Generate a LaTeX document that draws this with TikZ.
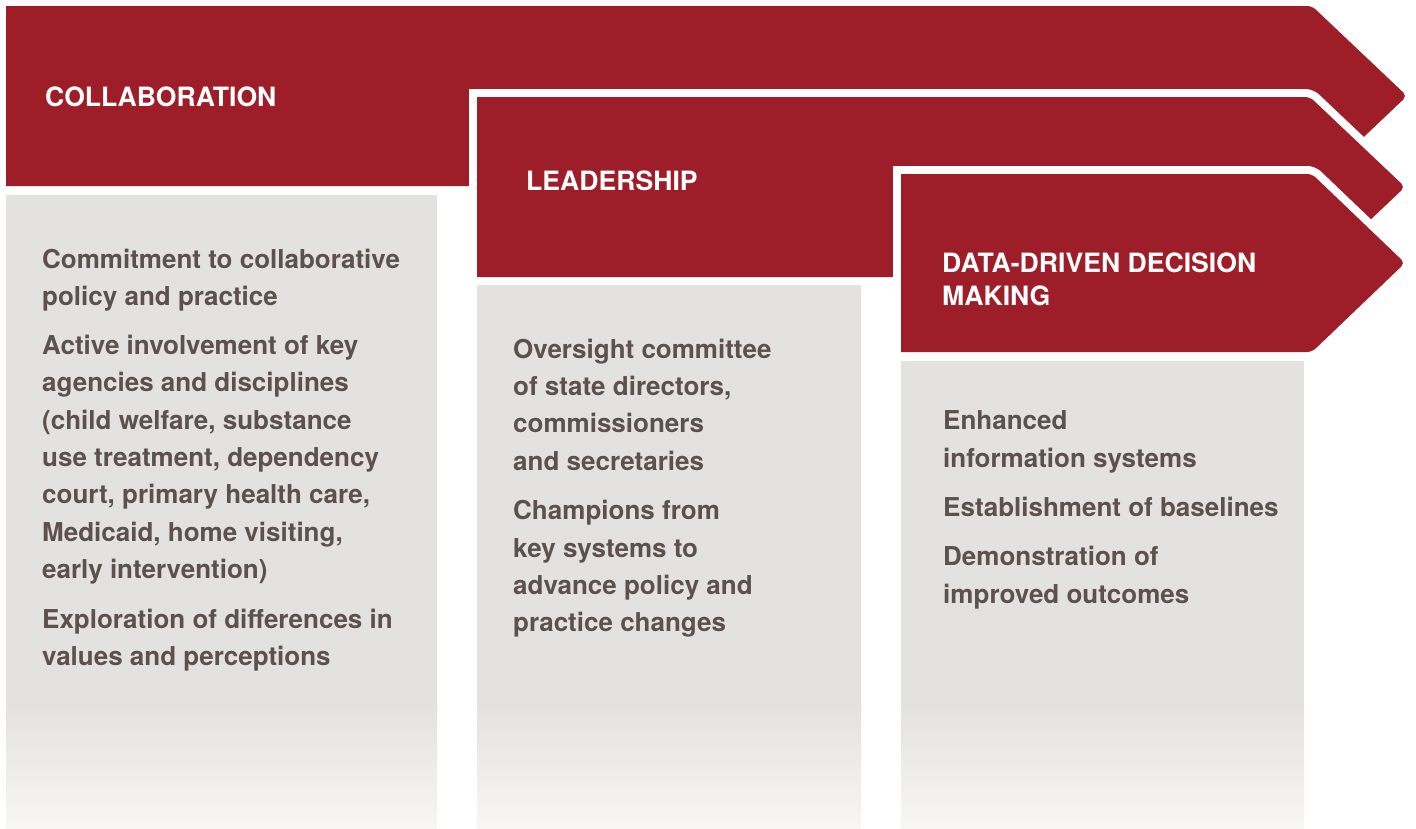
\documentclass[tikz,border=0pt]{standalone}
\usepackage{fontspec}
\setmainfont{TeX Gyre Heros}
\definecolor{bandred}{RGB}{157,30,41}
\definecolor{boxgray}{RGB}{228,226,224}
\definecolor{boxlight}{RGB}{247,246,244}
\definecolor{bodycol}{RGB}{94,80,78}
\tikzset{
  band/.style={fill=bandred, preaction={draw=white, line width=16, line join=miter}},
  heading/.style={anchor=base west, inner sep=0, text=white, font=\fontsize{26.6}{33}\selectfont\bfseries},
  bodytext/.style={anchor=base west, inner sep=0, text=bodycol, font=\fontsize{26}{37}\selectfont\bfseries},
}
\newcommand{\graybox}[3]{% x0, x1, y0
  \fill[boxgray] (#1,#3) rectangle (#2,705);
  \shade[top color=boxgray, bottom color=boxlight] (#1,704.5) rectangle (#2,828);
}
\begin{document}
\begin{tikzpicture}[x=1pt, y=-1pt]
\useasboundingbox (0,0) rectangle (1416,828);
% gray boxes
\graybox{6}{437}{195}
\graybox{477}{861}{285}
\graybox{901}{1304}{361}
% band 1
\fill[bandred] (6,186) -- (6,6) [rounded corners=5] -- (1312,6) -- (1407,96) -- (1312,186) [sharp corners] -- cycle;
% band 2
\path[band] (477,277) -- (477,97) [rounded corners=5] -- (1310,97) -- (1405,187) -- (1310,277) [sharp corners] -- cycle;
% band 3
\path[band] (901,352) -- (901,174) [rounded corners=5] -- (1312,174) -- (1405,263) -- (1312,352) [sharp corners] -- cycle;
% headings
\node[heading] (h1) at (45,106) {COLLABORATION};
\node[heading] (h2) at (526,190) {LEADERSHIP};
\node[heading] (h3a) at (942,272) {DATA-DRIVEN DECISION};
\node[heading] (h3b) at (942,305) {MAKING};
% box 1 text
\node[bodytext] (a1) at (42,268) {Commitment to collaborative};
\node[bodytext] (a2) at (42,305) {policy and practice};
\node[bodytext] (a3) at (42,354) {Active involvement of key};
\node[bodytext] (a4) at (42,391) {agencies and disciplines};
\node[bodytext] (a5) at (42,429) {(child welfare, substance};
\node[bodytext] (a6) at (42,466) {use treatment, dependency};
\node[bodytext] (a7) at (42,503) {court, primary health care,};
\node[bodytext] (a8) at (42,541) {Medicaid, home visiting,};
\node[bodytext] (a9) at (42,578) {early intervention)};
\node[bodytext] (a10) at (42,628) {Exploration of differences in};
\node[bodytext] (a11) at (42,665) {values and perceptions};
% box 2 text
\node[bodytext] (b1) at (513,358) {Oversight committee};
\node[bodytext] (b2) at (513,395) {of state directors,};
\node[bodytext] (b3) at (513,432) {commissioners};
\node[bodytext] (b4) at (513,470) {and secretaries};
\node[bodytext] (b5) at (513,519) {Champions from};
\node[bodytext] (b6) at (513,557) {key systems to};
\node[bodytext] (b7) at (513,594) {advance policy and};
\node[bodytext] (b8) at (513,631) {practice changes};
% box 3 text
\node[bodytext] (c1) at (943,429) {Enhanced};
\node[bodytext] (c2) at (943,467) {information systems};
\node[bodytext] (c3) at (943,516) {Establishment of baselines};
\node[bodytext] (c4) at (943,565) {Demonstration of};
\node[bodytext] (c5) at (943,603) {improved outcomes};
\end{tikzpicture}
\end{document}
